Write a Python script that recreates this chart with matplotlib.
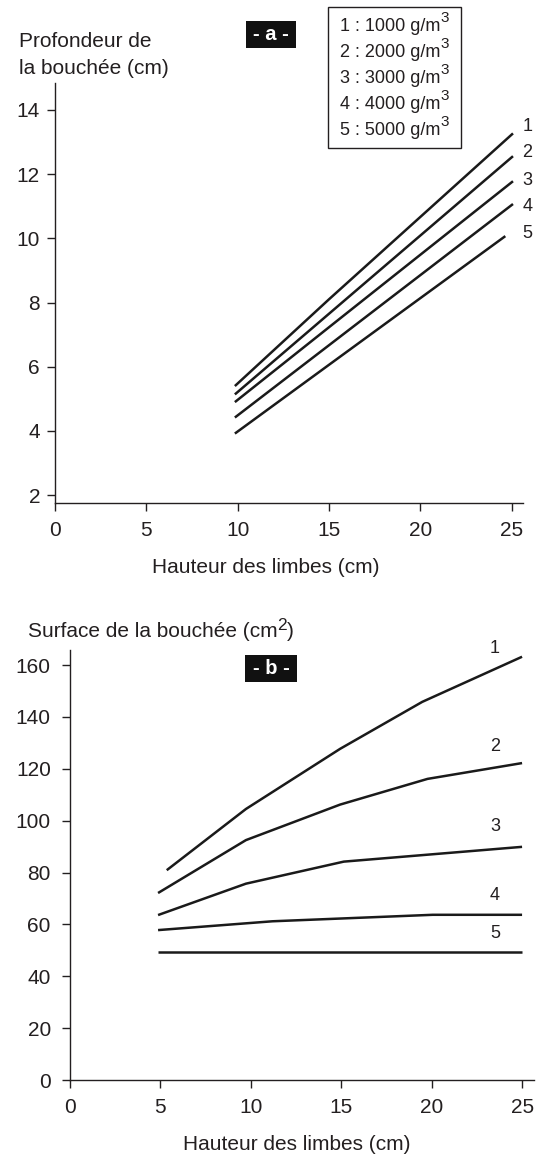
import matplotlib
matplotlib.use('Agg')
import matplotlib.pyplot as plt
from matplotlib.patches import Rectangle

plt.rcParams['font.family'] = ['Liberation Sans', 'DejaVu Sans']

# Données
densites = [1000, 2000, 3000, 4000, 5000]
numeros = ['1', '2', '3', '4', '5']

# - a - profondeur de la bouchée (cm) selon la hauteur des limbes (cm)
x_a = [9.85, 15.0, 25.08]
x_a5 = [9.85, 15.0, 24.66]
prof_1 = [5.40, 8.10, 13.27]
prof_2 = [5.14, 7.65, 12.56]
prof_3 = [4.90, 7.23, 11.78]
prof_4 = [4.42, 6.67, 11.07]
prof_5 = [3.92, 6.06, 10.07]

# - b - surface de la bouchée (cm2) selon la hauteur des limbes (cm)
x_b1 = [5.35, 9.73, 14.94, 19.48, 25.0]
surf_1 = [80.9, 104.5, 127.7, 145.8, 163.2]
x_b2 = [4.87, 9.73, 14.94, 19.77, 25.0]
surf_2 = [72.1, 92.5, 106.2, 116.1, 122.2]
x_b3 = [4.87, 9.73, 15.14, 25.0]
surf_3 = [63.6, 75.7, 84.2, 89.9]
x_b4 = [4.87, 11.2, 20.06, 25.0]
surf_4 = [57.8, 61.2, 63.7, 63.7]
x_b5 = [4.87, 25.0]
surf_5 = [49.2, 49.2]

ticks_x = [0, 5, 10, 15, 20, 25]
ticks_a = [2, 4, 6, 8, 10, 12, 14]
ticks_b = [0, 20, 40, 60, 80, 100, 120, 140, 160]

encre = '#231f20'
trait = '#1a1a1a'

W, H = 547, 1154
fig = plt.figure(figsize=(W / 100, H / 100), dpi=100)
rend = fig.canvas.get_renderer()


def fx(x):
    return x / W


def fy(y):
    return 1 - y / H


def texte_exposant(x, y, base, expo, fin='', size=15, size_expo=12.5, montee=6):
    # texte + exposant presque pleine taille, comme sur l'original
    t = fig.text(fx(x), fy(y), base, fontsize=size, color=encre, ha='left', va='baseline')
    x1 = t.get_window_extent(rend).x1
    t2 = fig.text(x1 / W, fy(y - montee), expo, fontsize=size_expo, color=encre,
                  ha='left', va='baseline')
    if fin:
        x2 = t2.get_window_extent(rend).x1
        fig.text(x2 / W, fy(y), fin, fontsize=size, color=encre, ha='left', va='baseline')


def style_axes(ax, ypad):
    for s in ['top', 'right']:
        ax.spines[s].set_visible(False)
    for s in ['left', 'bottom']:
        ax.spines[s].set_color(encre)
        ax.spines[s].set_linewidth(1.0)
    ax.tick_params(direction='out', length=5.8, width=1.0, color=encre,
                   labelsize=15, labelcolor=encre)
    ax.tick_params(axis='x', pad=7.3)
    ax.tick_params(axis='y', pad=ypad)


# ---------- panneau a ----------
ax_a = fig.add_axes([fx(55), fy(503), 468.4 / W, 420 / H])
for xs, ys in [(x_a, prof_1), (x_a, prof_2), (x_a, prof_3), (x_a, prof_4), (x_a5, prof_5)]:
    ax_a.plot(xs, ys, color=trait, lw=1.8, solid_capstyle='butt')
ax_a.set_xlim(0, 25.65)
ax_a.set_ylim(1.757, 14.84)
ax_a.set_xticks(ticks_x)
ax_a.set_yticks(ticks_a)
style_axes(ax_a, 5)

lab_a_y = [13.47, 12.66, 11.79, 10.98, 10.14]
for n, yy in zip(numeros, lab_a_y):
    ax_a.text(25.88, yy, n, fontsize=13, color=encre, ha='center', va='center', clip_on=False)

fig.text(fx(19), fy(47), 'Profondeur de', fontsize=15, color=encre, ha='left', va='baseline')
fig.text(fx(19), fy(74), 'la bouchée (cm)', fontsize=15, color=encre, ha='left', va='baseline')
fig.text(fx(265.6), fy(573), 'Hauteur des limbes (cm)', fontsize=15, color=encre,
         ha='center', va='baseline')

fig.add_artist(Rectangle((fx(246), fy(48)), 50 / W, 27 / H, transform=fig.transFigure,
                         facecolor='#111111', edgecolor='none'))
fig.text(fx(271), fy(34.5), '- a -', fontsize=14.5, fontweight='bold', color='white',
         ha='center', va='center')

# légende des densités
fig.add_artist(Rectangle((fx(328), fy(148)), 132.7 / W, 141 / H, transform=fig.transFigure,
                         facecolor='white', edgecolor=encre, lw=1.0))
for i, (n, d) in enumerate(zip(numeros, densites)):
    texte_exposant(340, 30.7 + 26.1 * i, n + ' : ' + str(d) + ' g/m', '3',
                   size=13, size_expo=11, montee=9)

# ---------- panneau b ----------
ax_b = fig.add_axes([fx(70), fy(1080), 464 / W, 430 / H])
for xs, ys in [(x_b1, surf_1), (x_b2, surf_2), (x_b3, surf_3), (x_b4, surf_4), (x_b5, surf_5)]:
    ax_b.plot(xs, ys, color=trait, lw=1.8, solid_capstyle='butt', solid_joinstyle='round')
ax_b.set_xlim(0, 25.66)
ax_b.set_ylim(0, 165.8)
ax_b.set_xticks(ticks_x)
ax_b.set_yticks(ticks_b)
style_axes(ax_b, 8)

lab_b_y = [166.4, 128.5, 97.9, 71.3, 56.6]
for n, yy in zip(numeros, lab_b_y):
    ax_b.text(23.5, yy, n, fontsize=13, color=encre, ha='center', va='center', clip_on=False)

texte_exposant(28, 637, 'Surface de la bouchée (cm', '2', ')', size=15, size_expo=12.5, montee=7)
fig.text(fx(297), fy(1150), 'Hauteur des limbes (cm)', fontsize=15, color=encre,
         ha='center', va='baseline')

fig.add_artist(Rectangle((fx(245), fy(682)), 52 / W, 27 / H, transform=fig.transFigure,
                         facecolor='#111111', edgecolor='none'))
fig.text(fx(271), fy(668.5), '- b -', fontsize=14.5, fontweight='bold', color='white',
         ha='center', va='center')

fig.savefig('out.png', dpi=100)
